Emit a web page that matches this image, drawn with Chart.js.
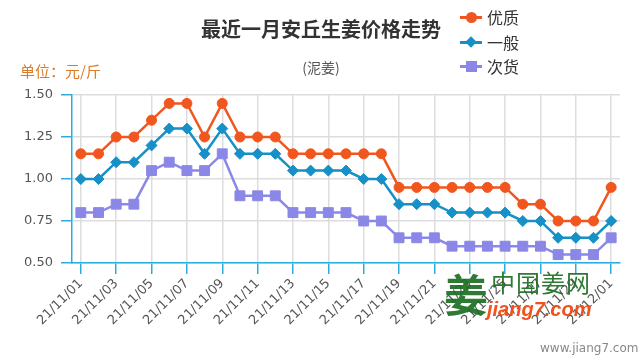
<!DOCTYPE html>
<html>
<head>
<meta charset="utf-8">
<script src="https://cdn.jsdelivr.net/npm/chart.js@4.4.1/dist/chart.umd.min.js"></script>
<style>
    html, body { margin: 0; padding: 0; background: #fff; }
    #wrap { position: relative; width: 640px; height: 360px; overflow: hidden; font-family: "Noto Sans CJK SC", "Noto Sans", sans-serif; }
    #chart { position: absolute; left: 0; top: 0; }
    .txt { position: absolute; white-space: nowrap; }
    #title { left: 0; width: 642px; top: 14px; text-align: center; font-size: 20px; font-weight: bold; color: #333; }
    #subtitle { left: 0; width: 642px; top: 57px; text-align: center; font-size: 14px; color: #555; }
    #unit { left: 20px; top: 60px; font-size: 15px; color: #dc7a26; }
    .leg { position: absolute; left: 460px; width: 80px; height: 22px; white-space: nowrap; }
    .leg .ln { position: absolute; left: 0; top: 10px; width: 22px; height: 3px; }
    .leg .mk { position: absolute; }
    .leg span { position: absolute; left: 27px; top: -1px; font-size: 16px; color: #333; }
    #logo1 { left: 444px; top: 268px; font-size: 44px; line-height: 50px; font-weight: bold; color: #1d6e22; opacity: 0.92; }
    #logo2 { left: 491px; top: 268px; font-size: 24px; line-height: 28px; color: #1d6e22; opacity: 0.92; letter-spacing: 1px; }
    #logo3 { left: 487px; top: 297px; font-size: 20px; line-height: 24px; font-weight: bold; font-style: italic; color: #f04a12; font-family: "Liberation Sans", Arial, sans-serif; opacity: 0.95; }
    #www { left: 540px; top: 341px; font-size: 12px; color: #888; font-family: "DejaVu Sans", sans-serif; }
</style>
</head>
<body>
<div id="wrap">
    <canvas id="chart" width="640" height="360"></canvas>
    <div class="txt" id="title">最近一月安丘生姜价格走势</div>
    <div class="txt" id="subtitle">(泥姜)</div>
    <div class="txt" id="unit">单位：元/斤</div>
    <div class="leg" style="top:6px">
        <div class="ln" style="background:#f0561d"></div>
        <div class="mk" style="left:6px;top:6px;width:11px;height:11px;border-radius:6px;background:#f0561d"></div>
        <span>优质</span>
    </div>
    <div class="leg" style="top:31px">
        <div class="ln" style="background:#1690c6"></div>
        <div class="mk" style="left:7px;top:7px;width:8px;height:8px;background:#1690c6;transform:rotate(45deg)"></div>
        <span>一般</span>
    </div>
    <div class="leg" style="top:55px">
        <div class="ln" style="background:#8b87e6"></div>
        <div class="mk" style="left:6px;top:6px;width:11px;height:11px;background:#8b87e6"></div>
        <span>次货</span>
    </div>
    <div class="txt" id="logo1">姜</div>
    <div class="txt" id="logo2">中国姜网</div>
    <div class="txt" id="logo3">jiang7.com</div>
    <div class="txt" id="www">www.jiang7.com</div>
</div>
<script>
// dates (one per day)
const dates = [
    '21/11/01', '21/11/02', '21/11/03', '21/11/04', '21/11/05', '21/11/06', '21/11/07', '21/11/08',
    '21/11/09', '21/11/10', '21/11/11', '21/11/12', '21/11/13', '21/11/14', '21/11/15', '21/11/16',
    '21/11/17', '21/11/18', '21/11/19', '21/11/20', '21/11/21', '21/11/22', '21/11/23', '21/11/24',
    '21/11/25', '21/11/26', '21/11/27', '21/11/28', '21/11/29', '21/11/30', '21/12/01'
];

// prices in yuan per jin
const youzhi = [1.15, 1.15, 1.25, 1.25, 1.35, 1.45, 1.45, 1.25, 1.45, 1.25, 1.25, 1.25, 1.15, 1.15, 1.15, 1.15,
    1.15, 1.15, 0.95, 0.95, 0.95, 0.95, 0.95, 0.95, 0.95, 0.85, 0.85, 0.75, 0.75, 0.75, 0.95];
const yiban = [1.00, 1.00, 1.10, 1.10, 1.20, 1.30, 1.30, 1.15, 1.30, 1.15, 1.15, 1.15, 1.05, 1.05, 1.05, 1.05,
    1.00, 1.00, 0.85, 0.85, 0.85, 0.80, 0.80, 0.80, 0.80, 0.75, 0.75, 0.65, 0.65, 0.65, 0.75];
const cihuo = [0.80, 0.80, 0.85, 0.85, 1.05, 1.10, 1.05, 1.05, 1.15, 0.90, 0.90, 0.90, 0.80, 0.80, 0.80, 0.80,
    0.75, 0.75, 0.65, 0.65, 0.65, 0.60, 0.60, 0.60, 0.60, 0.60, 0.60, 0.55, 0.55, 0.55, 0.65];

const yTicks = [0.50, 0.75, 1.00, 1.25, 1.50];

const axisBlue = '#2aaee0';
const gridGray = '#dddddd';

var ctx = document.getElementById('chart').getContext('2d');
var chart = new Chart(ctx, {
    type: 'line',
    data: {
        labels: dates,
        datasets: [
            {
                label: '优质',
                data: youzhi,
                borderColor: '#f0561d',
                backgroundColor: '#f0561d',
                borderWidth: 2.5,
                pointBorderWidth: 1,
                pointStyle: 'circle',
                pointRadius: 5,
                pointHoverRadius: 5,
                tension: 0
            },
            {
                label: '一般',
                data: yiban,
                borderColor: '#1690c6',
                backgroundColor: '#1690c6',
                borderWidth: 2.5,
                pointBorderWidth: 1,
                pointStyle: 'rectRot',
                pointRadius: 5.5,
                pointHoverRadius: 5.5,
                tension: 0
            },
            {
                label: '次货',
                data: cihuo,
                borderColor: '#8b87e6',
                backgroundColor: '#8b87e6',
                borderWidth: 2.5,
                pointBorderWidth: 1,
                pointStyle: 'rect',
                pointRadius: 7,
                pointHoverRadius: 7,
                tension: 0
            }
        ]
    },
    options: {
        responsive: false,
        animation: false,
        layout: {
            padding: { top: 95, right: 20, left: 0, bottom: 0 }
        },
        plugins: {
            legend: { display: false },
            title: { display: false },
            tooltip: { enabled: false }
        },
        scales: {
            x: {
                offset: true,
                border: { color: axisBlue, width: 1.5 },
                grid: {
                    offset: false,
                    color: gridGray,
                    lineWidth: 1.5,
                    tickColor: axisBlue,
                    tickLength: 11
                },
                ticks: {
                    autoSkip: false,
                    maxRotation: 45,
                    minRotation: 45,
                    padding: 2,
                    color: '#555',
                    font: { family: 'DejaVu Sans', size: 13 },
                    callback: function (value, index) {
                        return index % 2 === 0 ? dates[index] : null;
                    }
                },
                afterFit: function (scale) { scale.height = 97; }
            },
            y: {
                min: 0.5,
                max: 1.5,
                border: { color: axisBlue, width: 1.5 },
                grid: {
                    color: gridGray,
                    lineWidth: 1.5,
                    tickColor: axisBlue,
                    tickLength: 11
                },
                afterBuildTicks: function (scale) {
                    scale.ticks = yTicks.map(v => ({ value: v }));
                },
                ticks: {
                    padding: 8,
                    color: '#555',
                    font: { family: 'DejaVu Sans', size: 13 },
                    callback: function (value) { return Number(value).toFixed(2); }
                },
                afterFit: function (scale) { scale.width = 72; }
            }
        }
    }
});
</script>
</body>
</html>
